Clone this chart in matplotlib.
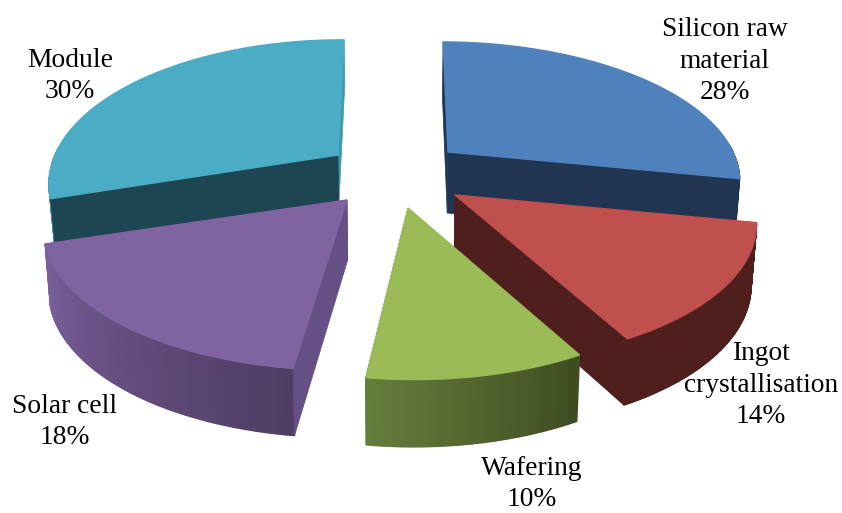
import numpy as np
import matplotlib
matplotlib.use("Agg")
from matplotlib import pyplot as plt
from matplotlib.colors import to_rgb
from matplotlib.patches import Polygon

# data
labels = ["Silicon raw\nmaterial", "Ingot\ncrystallisation", "Wafering", "Solar cell", "Module"]
values = [28, 14, 10, 18, 30]

# style / layout, one entry per slice
top_colors = ["#4f81bd", "#c0504d", "#9bbb59", "#8064a2", "#4bacc6"]
wall_end = ["#1f3552", "#4f1f1e", "#647d3b", "#7a5f9b", "#3a8ea3"]     # colour at the slice's last angle
wall_start = ["#1f3552", "#4f1f1e", "#3f4c22", "#4f3d63", "#3a8ea3"]   # colour at its first angle
edge_first = ["#1f3552", "#4f1f1e", "#3f4c22", "#664f84", "#1e4552"]
edge_last = ["#1f3552", "#4f1f1e", "#3f4c22", "#664f84", "#3f97ae"]
first_wall_on_top = [True, True, False, True, True]  # wafering's faces away from the viewer
apex_x = [448, 455, 408, 347, 338]
apex_y = [152, 195, 208, 200, 155]
depths = [61, 60, 60, 60, 50]
radius_x = [285, 295, 292, 297, 283]
radius_y = [131, 136, 139, 138, 137]
skew_x = [-7, -5, -6, 5, 4]
label_x = [725, 761, 532, 65, 70]
label_y = [61, 385, 484, 422, 76]
draw_order = [0, 4, 1, 3, 2]

START_ANGLE = 0.5
PERSP = 0.19


def project(theta, radius, idx):
    """disc coords (degrees clockwise from north) to pixel coords of the top face"""
    t = np.radians(theta)
    u, v = radius * np.sin(t), radius * np.cos(t)
    w = 1 + PERSP * v
    return apex_x[idx] + radius_x[idx] * u / w + skew_x[idx] * v, apex_y[idx] - radius_y[idx] * v / w, v


def lower(x, y, v, idx):
    # same point on the bottom face, lower and slightly pulled to the middle
    return 395 + (x - 395) * 0.985, y + depths[idx] * (1 - 0.12 * v)


def mix(c1, c2, f):
    return tuple((1 - f) * a + f * b for a, b in zip(to_rgb(c1), to_rgb(c2)))


fig = plt.figure(figsize=(8.42, 5.13), dpi=100)
ax = fig.add_axes([0, 0, 1, 1])
ax.set_xlim(0, 842)
ax.set_ylim(513, 0)
ax.axis("off")

angles = START_ANGLE + np.concatenate([[0], np.cumsum(values)]) * 3.6

for i in draw_order:
    a0, a1 = angles[i], angles[i + 1]
    thetas = np.linspace(a0, a1, 90)
    xs, ys, vs = project(thetas, 1.0, i)
    bx, by = lower(xs, ys, vs, i)
    ax0, ay0, av0 = project(a0, 0.0, i)
    cx, cy = lower(ax0, ay0, av0, i)

    # wall at the last angle sits behind the rim
    ax.add_patch(Polygon([(ax0, ay0), (xs[-1], ys[-1]), (bx[-1], by[-1]), (cx, cy)],
                         fc=edge_last[i], ec=edge_last[i], lw=0.5))

    # rim wall in thin strips so the shading can run along it, far side is hidden anyway
    for k in range(len(thetas) - 1):
        if vs[k] > 0.05 and vs[k + 1] > 0.05:
            continue
        col = mix(wall_start[i], wall_end[i], k / (len(thetas) - 2))
        ax.add_patch(Polygon([(xs[k], ys[k]), (xs[k + 1], ys[k + 1]),
                              (bx[k + 1], by[k + 1]), (bx[k], by[k])],
                             fc=col, ec=col, lw=1.0, joinstyle="round"))

    # wall at the first angle goes over the rim when it is visible
    if first_wall_on_top[i]:
        ax.add_patch(Polygon([(ax0, ay0), (xs[0], ys[0]), (bx[0], by[0]), (cx, cy)],
                             fc=edge_first[i], ec=edge_first[i], lw=0.5))

    # top face
    ax.add_patch(Polygon(np.vstack([[(ax0, ay0)], np.column_stack([xs, ys])]),
                         fc=top_colors[i], ec=top_colors[i], lw=1.0))

for i, name in enumerate(labels):
    ax.text(label_x[i], label_y[i], f"{name}\n{values[i]}%", ha="center", va="center",
            family="Liberation Serif", fontsize=19.8, color="black", linespacing=1.34)

fig.savefig("out.png", dpi=100, facecolor="white")
